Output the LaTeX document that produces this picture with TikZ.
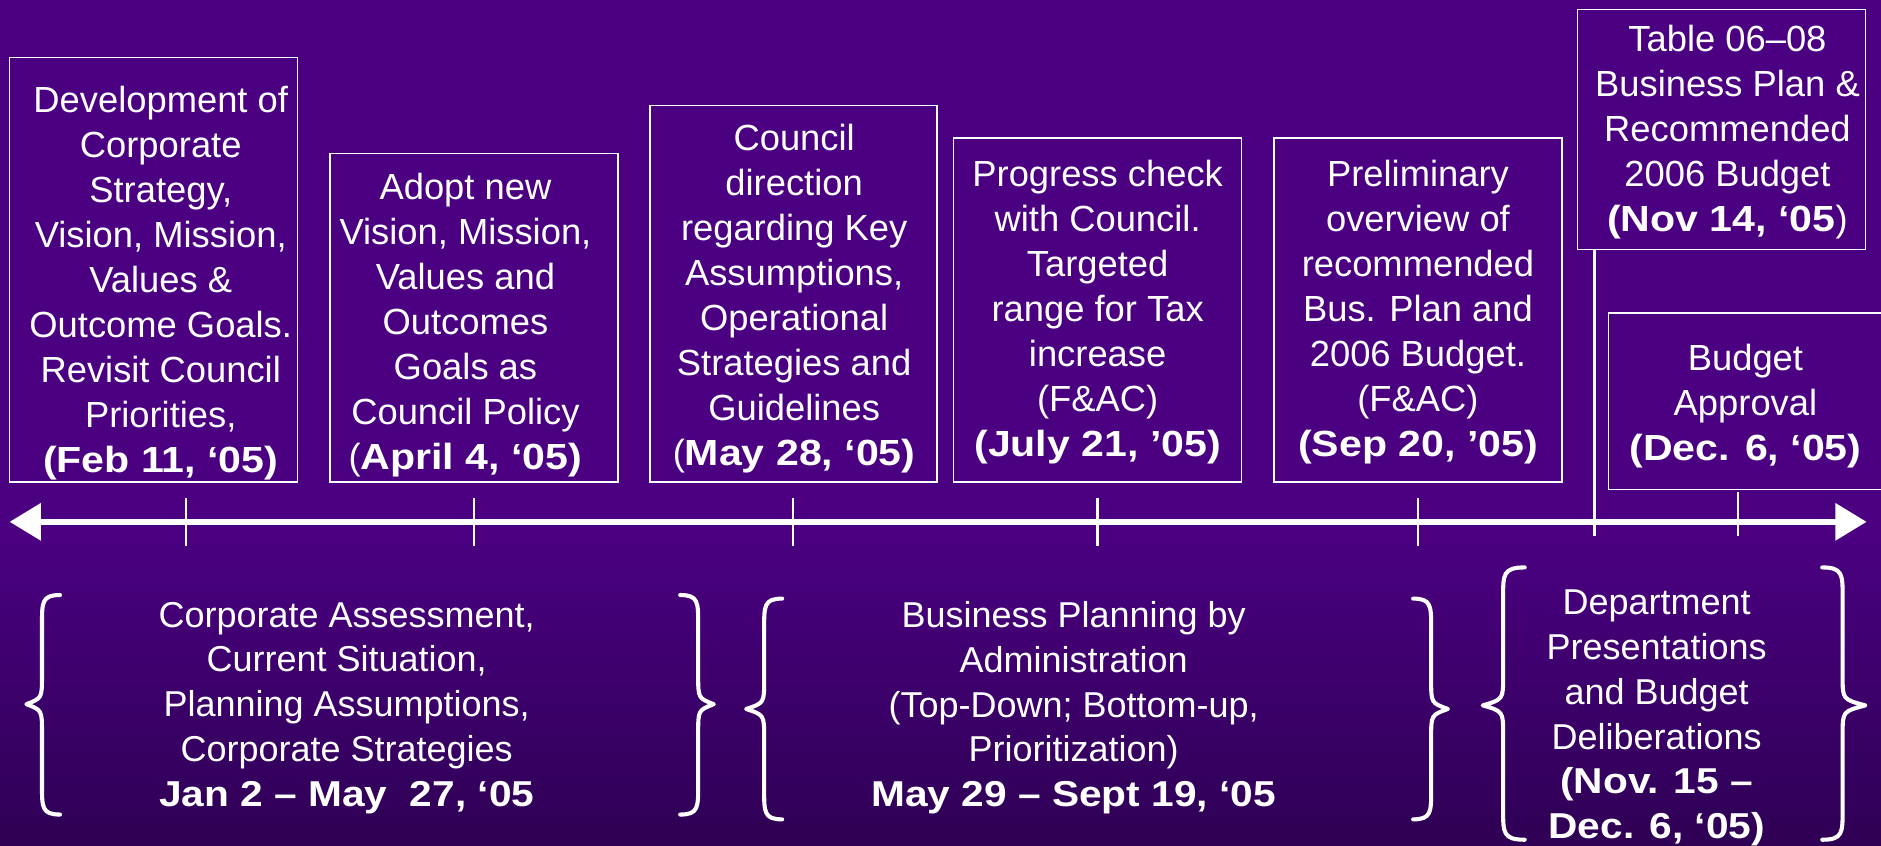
\documentclass[tikz,border=0pt]{standalone}
\usepackage{fontspec}
\setmainfont{Liberation Sans}
\newfontfamily\datefam{Liberation Sans}[FakeStretch=1.13]
\newcommand{\datebf}[1]{{\datefam\bfseries #1}}
\usetikzlibrary{arrows.meta,calc}
\definecolor{bgtop}{RGB}{75,0,130}
\definecolor{bgbot}{RGB}{46,0,84}
% curly brace: end x, stem x, tip x, top y, middle y, bottom y
\newcommand{\curlybrace}[6]{%
  \draw[curly] (#1,#4) .. controls (#2,#4) and (#2,#4+6) .. (#2,#4+24) -- (#2,#5-24)
    .. controls (#2,#5-5) .. (#3,#5) .. controls (#2,#5+5) .. (#2,#5+24)
    -- (#2,#6-24) .. controls (#2,#6-6) and (#2,#6) .. (#1,#6);}
\begin{document}
\begin{tikzpicture}[x=1pt,y=-1pt,
  box/.style={draw=white,line width=1.3pt,inner sep=0pt},
  txt/.style={text=white,align=center,inner sep=0pt,font=\fontsize{30.3}{37.5}\selectfont},
  btxt/.style={text=white,align=center,inner sep=0pt,font=\fontsize{30}{37.3}\selectfont},
  tick/.style={white,line width=2pt},
  curly/.style={white,line width=3.4pt,line cap=round,line join=round},
  axis/.style={white,line width=5pt,{Triangle[length=26pt,width=30pt]}-{Triangle[length=26pt,width=30pt]}}]

% background
\fill[bgtop] (0,0) rectangle (1568,705);
\shade[top color=bgtop,bottom color=bgbot] (0,440) rectangle (1568,705);
\useasboundingbox (0,0) rectangle (1568,705);
\clip (0,0) rectangle (1568,705);

% milestone boxes
\node[box,minimum width=240pt,minimum height=354pt] (b1) at (128,225) {};
\node[box,minimum width=240pt,minimum height=274pt] (b2) at (395,265) {};
\node[box,minimum width=239pt,minimum height=314pt] (b3) at (661.5,245) {};
\node[box,minimum width=240pt,minimum height=287pt] (b4) at (915,258.5) {};
\node[box,minimum width=240pt,minimum height=287pt] (b5) at (1182,258.5) {};
\node[box,minimum width=240pt,minimum height=200pt] (b6) at (1435,108) {};
\node[box,minimum width=240pt,minimum height=147pt] (b7) at (1461,334.5) {};

\node[txt] (t1) at (134,236) {Development of\\Corporate\\Strategy,\\Vision, Mission,\\Values \&\\Outcome Goals.\\Revisit Council\\Priorities,\\\datebf{(Feb 11, ‘05)}};
\node[txt] (t2) at (388,271) {Adopt new\\Vision, Mission,\\Values and\\Outcomes\\Goals as\\Council Policy\\(\datebf{April 4, ‘05)}};
\node[txt] (t3) at (662,249) {Council\\direction\\regarding Key\\Assumptions,\\Operational\\Strategies and\\Guidelines\\(\datebf{May 28, ‘05)}};
\node[txt] (t4) at (915,260) {Progress check\\with Council.\\Targeted\\range for Tax\\increase\\(F\&AC)\\\datebf{(July 21, ’05)}};
\node[txt] (t5) at (1182,260) {Preliminary\\overview of\\recommended\\Bus. Plan and\\2006 Budget.\\(F\&AC)\\\datebf{(Sep 20, ’05)}};
\node[txt] (t6) at (1440,110.5) {Table 06–08\\Business Plan \&\\Recommended\\2006 Budget\\\datebf{(Nov 14, ‘05})};
\node[txt] (t7) at (1455,338.5) {Budget\\Approval\\\datebf{(Dec. 6, ‘05)}};

% time axis
\coordinate (axL) at (8,435);
\coordinate (axR) at (1556,435);
\draw[axis] (axL) -- (axR);

% ticks
\coordinate (k1a) at (155,415);  \coordinate (k1b) at (155,455);
\coordinate (k2a) at (395,415);  \coordinate (k2b) at (395,455);
\coordinate (k3a) at (661,415);  \coordinate (k3b) at (661,455);
\coordinate (k4a) at (915,415);  \coordinate (k4b) at (915,455);
\coordinate (k5a) at (1182,415); \coordinate (k5b) at (1182,455);
\coordinate (k6b) at (1329,447);
\coordinate (k7a) at (1449,410); \coordinate (k7b) at (1449,447);
\draw[tick] (k1a) -- (k1b);
\draw[tick] (k2a) -- (k2b);
\draw[tick] (k3a) -- (k3b);
\draw[tick] (k4a) -- (k4b);
\draw[tick] (k5a) -- (k5b);
\draw[tick] (k6b |- b6.south) -- (k6b);
\draw[tick] (k7a) -- (k7b);

% phases
\curlybrace{50}{35}{22}{496}{587}{679}
\curlybrace{567}{582}{595}{496}{587}{679}
\node[btxt] (g1) at (289,590) {Corporate Assessment,\\Current Situation,\\Planning Assumptions,\\Corporate Strategies\\\datebf{Jan 2 – May~ 27, ‘05}};

\curlybrace{652}{637}{622}{499}{591}{683}
\curlybrace{1178}{1193}{1207}{499}{591}{683}
\node[btxt] (g2) at (895,590) {Business Planning by\\Administration\\(Top-Down; Bottom-up,\\Prioritization)\\\datebf{May 29 – Sept 19, ‘05}};

\curlybrace{1271}{1253}{1236}{473}{588}{700}
\curlybrace{1519}{1536}{1555}{473}{588}{700}
\node[btxt] (g3) at (1381,598.5) {Department\\Presentations\\and Budget\\Deliberations\\\datebf{(Nov. 15 –}\\\datebf{Dec. 6, ‘05)}};
\end{tikzpicture}
\end{document}
